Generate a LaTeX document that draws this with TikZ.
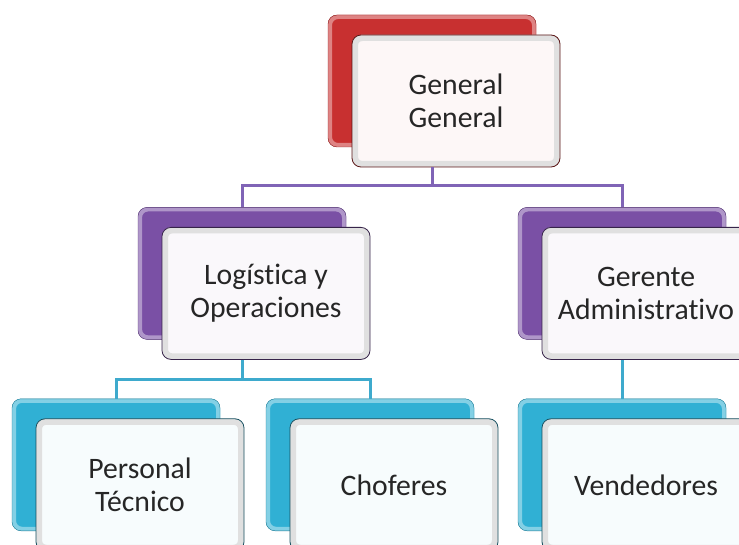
\documentclass[tikz,border=0pt]{standalone}
\usepackage{fontspec}
\setmainfont{Carlito}[Ligatures=NoCommon]
\usetikzlibrary{positioning,calc}

\definecolor{rojo}{RGB}{200,48,48}
\definecolor{morado}{RGB}{122,80,165}
\definecolor{celeste}{RGB}{48,176,212}
\definecolor{lineamorado}{RGB}{128,100,182}
\definecolor{lineaceleste}{RGB}{62,170,205}

\begin{document}
\begin{tikzpicture}[x=1pt, y=-1pt,
            every node/.style={rounded corners=9pt, minimum width=208pt, minimum height=132pt,
                text=black!85, align=center, font=\fontsize{29.7pt}{33pt}\selectfont},
            atras/.style={draw=#1!70!black, fill=#1,
                path picture={\draw[#1!60!white, line width=8pt, rounded corners=10pt]
                    (path picture bounding box.south west) rectangle (path picture bounding box.north east);}},
            frente/.style={draw=#1!45!black, line width=0.8pt, fill=#1!4!white,
                path picture={\draw[black!12, line width=12pt, rounded corners=10pt]
                    (path picture bounding box.south west) rectangle (path picture bounding box.north east);}},
            linea/.style={draw=#1, line width=3pt}]
        \useasboundingbox (0,0) rectangle (739,545);
        \clip (0,0) rectangle (739,545);

        \node[atras=rojo] (ggb) at (432,81) {};
        \node[frente=rojo] (gg) at ($(ggb)+(24,20)$) {General\\General};

        \node[atras=morado, below=60pt of ggb, xshift=-190pt] (logb) {};
        \node[frente=morado] (log) at ($(logb)+(24,20)$) {Logística y\\Operaciones};
        \node[atras=morado, below=60pt of ggb, xshift=190pt] (gerb) {};
        \node[frente=morado] (ger) at ($(gerb)+(24,20)$) {Gerente\\Administrativo};

        \node[atras=celeste, below=59pt of logb, xshift=-126pt] (perb) {};
        \node[frente=celeste] (per) at ($(perb)+(24,20)$) {Personal\\Técnico};
        \node[atras=celeste, below=59pt of logb, xshift=128pt] (chob) {};
        \node[frente=celeste] (cho) at ($(chob)+(24,20)$) {Choferes};
        \node[atras=celeste, below=59pt of gerb] (venb) {};
        \node[frente=celeste] (ven) at ($(venb)+(24,20)$) {Vendedores};

        \draw[linea=lineamorado] (ggb |- gg.south) -- ++(0,18) -| (logb.north);
        \draw[linea=lineamorado] (ggb |- gg.south) -- ++(0,18) -| (gerb.north);
        \draw[linea=lineaceleste] (logb |- log.south) -- ++(0,20) -| (perb.north);
        \draw[linea=lineaceleste] (logb |- log.south) -- ++(0,20) -| (chob.north);
        \draw[linea=lineaceleste] (gerb |- ger.south) -- (venb.north);
\end{tikzpicture}
\end{document}
